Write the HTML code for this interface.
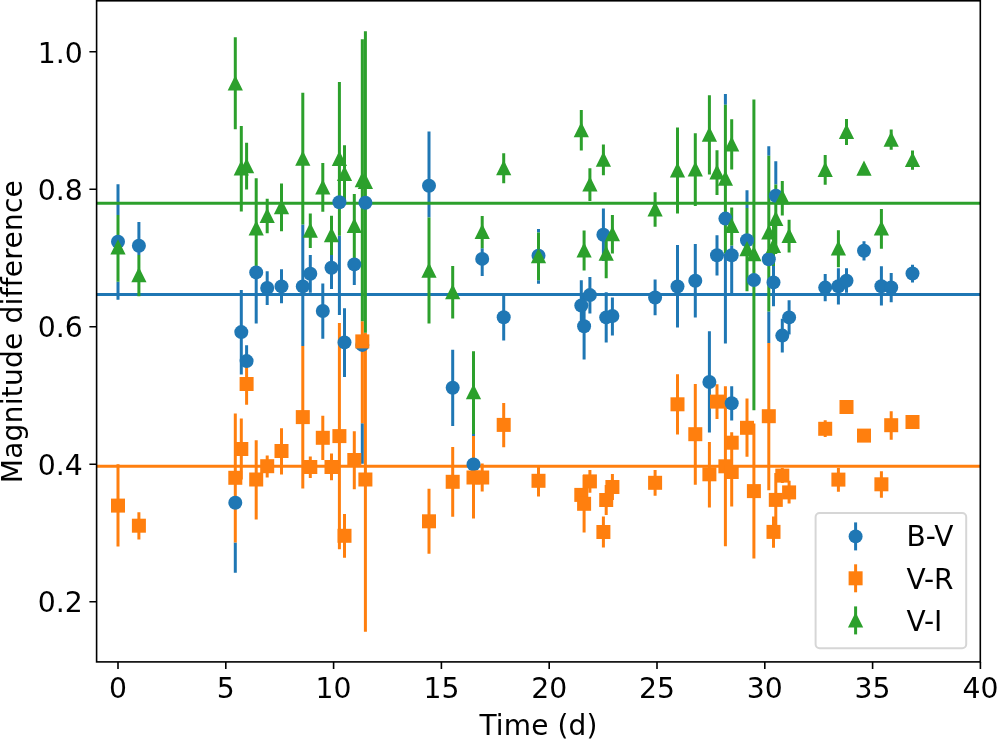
<!DOCTYPE html>
<html><head><meta charset="utf-8"><title>Magnitude difference vs Time</title>
<style>html,body{margin:0;padding:0;background:#fff}svg{display:block}</style></head>
<body>
<svg width="997" height="739" viewBox="0 0 997 739">
<rect width="997" height="739" fill="#fff"/>
<path d="M118.0 184.2V215.1 M118.0 281.7V299.7 M138.9 222.1V255.1 M235.3 542.6V572.8 M241.3 289.9V374.4 M246.6 345.3V363.3 M256.2 279.0V323.6 M267.2 271.2V304.9 M281.5 269.3V303.2 M302.8 224.6V345.9 M310.3 254.9V292.7 M322.8 283.4V338.8 M331.5 255.0V289.0 M339.4 235.7V315.0 M344.5 308.3V376.9 M354.3 258.0V285.0 M362.3 423.3V463.7 M429.0 131.5V217.6 M452.7 349.7V425.9 M473.5 434.0V436.1 M482.2 248.3V276.1 M503.7 294.0V340.5 M538.5 229.0V232.5 M538.5 280.2V283.7 M581.3 280.3V330.7 M584.1 293.1V359.6 M589.9 277.1V313.6 M603.4 208.5V261.1 M606.2 292.3V342.6 M612.4 297.5V335.4 M655.1 279.5V315.3 M677.5 245.1V327.5 M695.3 243.9V317.5 M709.4 331.3V432.6 M717.0 235.2V275.5 M725.4 94.1V104.7 M725.4 253.5V343.5 M731.7 245.4V293.4 M731.7 386.2V420.4 M747.0 190.3V207.9 M768.8 146.3V155.8 M768.8 311.5V343.0 M775.8 161.3V184.6 M773.5 266.0V306.2 M782.3 318.7V352.5 M789.1 300.3V334.6 M825.2 274.0V301.3 M838.4 268.2V304.4 M846.5 268.2V292.8 M864.0 241.3V260.6 M881.4 266.3V305.5 M891.2 272.9V302.3 M912.5 264.8V282.4" stroke="#1f77b4" stroke-width="3.0" fill="none"/>
<path d="M96.6 294.4H980.3" stroke="#1f77b4" stroke-width="3.0" fill="none"/>
<path d="M118.0 464.2V546.6 M138.9 512.3V539.4 M235.3 413.4V542.6 M241.3 418.5V479.5 M246.6 363.3V404.7 M256.2 440.2V519.5 M267.2 455.4V477.5 M281.5 428.2V474.4 M302.8 345.9V488.5 M310.3 456.4V477.9 M322.8 415.8V460.0 M331.5 453.6V480.3 M339.4 323.1V549.2 M344.5 514.0V557.7 M354.3 431.3V489.2 M362.3 321.3V423.3 M365.4 332.8V631.7 M429.0 488.8V553.8 M452.7 447.1V516.8 M473.5 436.1V518.4 M482.2 463.4V491.4 M503.7 403.0V447.2 M538.5 465.2V496.4 M581.3 489.0V501.0 M584.1 475.1V532.5 M589.9 470.0V492.8 M603.4 516.6V547.5 M606.2 485.0V515.0 M612.4 474.1V500.0 M655.1 470.0V495.7 M677.5 374.2V434.6 M695.3 383.9V484.7 M709.4 442.0V507.6 M717.0 384.3V418.9 M725.4 386.2V546.2 M731.7 432.2V453.2 M731.7 437.4V506.6 M747.0 398.4V456.8 M753.9 423.6V558.5 M768.8 343.0V490.3 M773.5 516.5V547.7 M775.8 473.0V527.0 M782.3 468.0V483.0 M789.1 480.7V503.6 M825.2 420.2V437.0 M838.4 468.0V491.7 M846.5 404.0V410.0 M864.0 432.6V438.6 M881.4 471.3V497.8 M891.2 411.3V439.7 M912.5 419.0V425.0" stroke="#ff7f0e" stroke-width="3.0" fill="none"/>
<path d="M96.6 466.2H980.3" stroke="#ff7f0e" stroke-width="3.0" fill="none"/>
<path d="M118.0 215.1V281.7 M138.9 255.1V296.3 M235.3 37.3V129.3 M241.3 126.0V211.4 M246.6 142.8V189.6 M256.2 178.3V279.0 M267.2 198.8V233.3 M281.5 183.4V231.3 M302.8 92.7V224.6 M310.3 213.4V247.9 M322.8 163.0V211.8 M331.5 215.8V255.0 M339.4 82.1V235.7 M344.5 145.3V202.0 M354.3 194.1V258.0 M362.3 39.3V321.3 M365.4 31.2V332.8 M429.0 217.6V323.5 M452.7 266.0V318.4 M473.5 351.2V434.0 M482.2 216.1V248.3 M503.7 153.2V183.2 M538.5 232.5V280.2 M581.3 110.0V150.5 M584.1 230.4V270.6 M589.9 168.2V201.0 M603.4 144.4V175.2 M606.2 229.8V278.2 M612.4 215.1V253.4 M655.1 192.3V226.7 M677.5 127.5V213.5 M695.3 133.3V205.9 M709.4 95.2V174.5 M717.0 150.2V195.0 M725.4 104.7V253.5 M731.7 119.2V169.6 M731.7 207.4V245.4 M747.0 207.9V291.3 M753.9 99.4V410.2 M768.8 155.8V311.5 M775.8 184.6V254.0 M773.5 226.0V266.0 M782.3 181.0V215.6 M789.1 219.8V252.5 M825.2 155.0V184.7 M838.4 230.2V267.2 M846.5 119.0V144.9 M864.0 166.0V171.6 M881.4 208.9V248.7 M891.2 129.4V149.8 M912.5 150.6V169.7" stroke="#2ca02c" stroke-width="3.0" fill="none"/>
<path d="M96.6 203.2H980.3" stroke="#2ca02c" stroke-width="3.0" fill="none"/>
<g fill="#1f77b4"><circle cx="118.0" cy="241.8" r="7"/><circle cx="138.9" cy="245.8" r="7"/><circle cx="235.3" cy="502.7" r="7"/><circle cx="241.3" cy="332.1" r="7"/><circle cx="246.6" cy="361.1" r="7"/><circle cx="256.2" cy="272.4" r="7"/><circle cx="267.2" cy="288.0" r="7"/><circle cx="281.5" cy="286.4" r="7"/><circle cx="302.8" cy="286.4" r="7"/><circle cx="310.3" cy="273.8" r="7"/><circle cx="322.8" cy="311.0" r="7"/><circle cx="331.5" cy="267.7" r="7"/><circle cx="339.4" cy="202.2" r="7"/><circle cx="344.5" cy="342.4" r="7"/><circle cx="354.3" cy="264.4" r="7"/><circle cx="362.3" cy="344.9" r="7"/><circle cx="365.4" cy="202.8" r="7"/><circle cx="429.0" cy="185.7" r="7"/><circle cx="452.7" cy="387.7" r="7"/><circle cx="473.5" cy="464.4" r="7"/><circle cx="482.2" cy="258.9" r="7"/><circle cx="503.7" cy="317.2" r="7"/><circle cx="538.5" cy="255.8" r="7"/><circle cx="581.3" cy="305.5" r="7"/><circle cx="584.1" cy="326.3" r="7"/><circle cx="589.9" cy="295.1" r="7"/><circle cx="603.4" cy="234.8" r="7"/><circle cx="606.2" cy="317.4" r="7"/><circle cx="612.4" cy="316.0" r="7"/><circle cx="655.1" cy="297.5" r="7"/><circle cx="677.5" cy="286.5" r="7"/><circle cx="695.3" cy="280.8" r="7"/><circle cx="709.4" cy="382.0" r="7"/><circle cx="717.0" cy="255.2" r="7"/><circle cx="725.4" cy="218.6" r="7"/><circle cx="731.7" cy="255.3" r="7"/><circle cx="731.7" cy="403.3" r="7"/><circle cx="747.0" cy="240.2" r="7"/><circle cx="753.9" cy="280.1" r="7"/><circle cx="768.8" cy="259.2" r="7"/><circle cx="775.8" cy="195.7" r="7"/><circle cx="773.5" cy="282.4" r="7"/><circle cx="782.3" cy="335.6" r="7"/><circle cx="789.1" cy="317.4" r="7"/><circle cx="825.2" cy="287.6" r="7"/><circle cx="838.4" cy="286.3" r="7"/><circle cx="846.5" cy="280.8" r="7"/><circle cx="864.0" cy="250.8" r="7"/><circle cx="881.4" cy="286.3" r="7"/><circle cx="891.2" cy="287.5" r="7"/><circle cx="912.5" cy="273.5" r="7"/></g>
<g fill="#ff7f0e"><rect x="111.0" y="498.6" width="14" height="14"/><rect x="131.9" y="518.7" width="14" height="14"/><rect x="228.3" y="470.8" width="14" height="14"/><rect x="234.3" y="442.0" width="14" height="14"/><rect x="239.6" y="377.0" width="14" height="14"/><rect x="249.2" y="472.5" width="14" height="14"/><rect x="260.2" y="459.2" width="14" height="14"/><rect x="274.5" y="444.0" width="14" height="14"/><rect x="295.8" y="410.1" width="14" height="14"/><rect x="303.3" y="460.0" width="14" height="14"/><rect x="315.8" y="430.8" width="14" height="14"/><rect x="324.5" y="460.0" width="14" height="14"/><rect x="332.4" y="429.1" width="14" height="14"/><rect x="337.5" y="528.8" width="14" height="14"/><rect x="347.3" y="453.0" width="14" height="14"/><rect x="355.3" y="334.4" width="14" height="14"/><rect x="358.4" y="472.5" width="14" height="14"/><rect x="422.0" y="514.3" width="14" height="14"/><rect x="445.7" y="474.8" width="14" height="14"/><rect x="466.5" y="470.5" width="14" height="14"/><rect x="475.2" y="470.5" width="14" height="14"/><rect x="496.7" y="417.9" width="14" height="14"/><rect x="531.5" y="473.8" width="14" height="14"/><rect x="574.3" y="487.9" width="14" height="14"/><rect x="577.1" y="496.8" width="14" height="14"/><rect x="582.9" y="474.4" width="14" height="14"/><rect x="596.4" y="525.0" width="14" height="14"/><rect x="599.2" y="493.0" width="14" height="14"/><rect x="605.4" y="480.0" width="14" height="14"/><rect x="648.1" y="475.8" width="14" height="14"/><rect x="670.5" y="397.3" width="14" height="14"/><rect x="688.3" y="427.2" width="14" height="14"/><rect x="702.4" y="467.3" width="14" height="14"/><rect x="710.0" y="394.6" width="14" height="14"/><rect x="718.4" y="459.3" width="14" height="14"/><rect x="724.7" y="435.7" width="14" height="14"/><rect x="724.7" y="465.0" width="14" height="14"/><rect x="740.0" y="420.8" width="14" height="14"/><rect x="746.9" y="484.1" width="14" height="14"/><rect x="761.8" y="409.2" width="14" height="14"/><rect x="766.5" y="524.9" width="14" height="14"/><rect x="768.8" y="492.9" width="14" height="14"/><rect x="775.3" y="468.6" width="14" height="14"/><rect x="782.1" y="485.4" width="14" height="14"/><rect x="818.2" y="421.8" width="14" height="14"/><rect x="831.4" y="472.6" width="14" height="14"/><rect x="839.5" y="400.0" width="14" height="14"/><rect x="857.0" y="428.6" width="14" height="14"/><rect x="874.4" y="477.3" width="14" height="14"/><rect x="884.2" y="418.2" width="14" height="14"/><rect x="905.5" y="415.0" width="14" height="14"/></g>
<g fill="#2ca02c" stroke="#2ca02c" stroke-width="2" stroke-linejoin="miter"><path d="M118.0 241.5l-6 12h12z"/><path d="M138.9 269.2l-6 12h12z"/><path d="M235.3 77.4l-6 12h12z"/><path d="M241.3 162.4l-6 12h12z"/><path d="M246.6 160.2l-6 12h12z"/><path d="M256.2 222.6l-6 12h12z"/><path d="M267.2 210.0l-6 12h12z"/><path d="M281.5 201.2l-6 12h12z"/><path d="M302.8 152.8l-6 12h12z"/><path d="M310.3 224.8l-6 12h12z"/><path d="M322.8 181.4l-6 12h12z"/><path d="M331.5 229.2l-6 12h12z"/><path d="M339.4 152.9l-6 12h12z"/><path d="M344.5 168.0l-6 12h12z"/><path d="M354.3 220.0l-6 12h12z"/><path d="M362.3 174.3l-6 12h12z"/><path d="M365.4 176.0l-6 12h12z"/><path d="M429.0 264.7l-6 12h12z"/><path d="M452.7 286.3l-6 12h12z"/><path d="M473.5 386.2l-6 12h12z"/><path d="M482.2 226.0l-6 12h12z"/><path d="M503.7 162.3l-6 12h12z"/><path d="M538.5 250.2l-6 12h12z"/><path d="M581.3 124.2l-6 12h12z"/><path d="M584.1 244.5l-6 12h12z"/><path d="M589.9 178.6l-6 12h12z"/><path d="M603.4 153.8l-6 12h12z"/><path d="M606.2 247.8l-6 12h12z"/><path d="M612.4 228.2l-6 12h12z"/><path d="M655.1 203.5l-6 12h12z"/><path d="M677.5 164.4l-6 12h12z"/><path d="M695.3 163.6l-6 12h12z"/><path d="M709.4 128.8l-6 12h12z"/><path d="M717.0 166.5l-6 12h12z"/><path d="M725.4 172.8l-6 12h12z"/><path d="M731.7 138.4l-6 12h12z"/><path d="M731.7 220.0l-6 12h12z"/><path d="M747.0 243.2l-6 12h12z"/><path d="M753.9 248.2l-6 12h12z"/><path d="M768.8 226.6l-6 12h12z"/><path d="M775.8 213.0l-6 12h12z"/><path d="M773.5 240.0l-6 12h12z"/><path d="M782.3 191.6l-6 12h12z"/><path d="M789.1 230.0l-6 12h12z"/><path d="M825.2 163.9l-6 12h12z"/><path d="M838.4 242.4l-6 12h12z"/><path d="M846.5 126.0l-6 12h12z"/><path d="M864.0 162.8l-6 12h12z"/><path d="M881.4 222.6l-6 12h12z"/><path d="M891.2 133.8l-6 12h12z"/><path d="M912.5 154.1l-6 12h12z"/></g>
<path d="M118.0 661.9v7.2 M225.8 661.9v7.2 M333.6 661.9v7.2 M441.4 661.9v7.2 M549.2 661.9v7.2 M657.0 661.9v7.2 M764.8 661.9v7.2 M872.6 661.9v7.2 M980.4 661.9v7.2 M96.6 51.8h-7.2 M96.6 189.3h-7.2 M96.6 326.8h-7.2 M96.6 464.3h-7.2 M96.6 601.8h-7.2" stroke="#000" stroke-width="1.6" fill="none"/>
<rect x="96.6" y="0.8" width="883.7" height="661.1" fill="none" stroke="#000" stroke-width="1.6"/>
<g font-family="DejaVu Sans, Liberation Sans, sans-serif" font-size="29" fill="#000"><text transform="translate(118.0 698.2) scale(0.975 1)" text-anchor="middle">0</text><text transform="translate(225.8 698.2) scale(0.975 1)" text-anchor="middle">5</text><text transform="translate(333.6 698.2) scale(0.975 1)" text-anchor="middle">10</text><text transform="translate(441.4 698.2) scale(0.975 1)" text-anchor="middle">15</text><text transform="translate(549.2 698.2) scale(0.975 1)" text-anchor="middle">20</text><text transform="translate(657.0 698.2) scale(0.975 1)" text-anchor="middle">25</text><text transform="translate(764.8 698.2) scale(0.975 1)" text-anchor="middle">30</text><text transform="translate(872.6 698.2) scale(0.975 1)" text-anchor="middle">35</text><text transform="translate(980.4 698.2) scale(0.975 1)" text-anchor="middle">40</text><text transform="translate(82.7 63.1) scale(0.977 1)" text-anchor="end">1.0</text><text transform="translate(82.7 199.9) scale(0.977 1)" text-anchor="end">0.8</text><text transform="translate(82.7 337.4) scale(0.977 1)" text-anchor="end">0.6</text><text transform="translate(82.7 474.9) scale(0.977 1)" text-anchor="end">0.4</text><text transform="translate(82.7 612.4) scale(0.977 1)" text-anchor="end">0.2</text></g>
<g font-family="DejaVu Sans, Liberation Sans, sans-serif" font-size="28" fill="#000"><text x="538.5" y="734.6" text-anchor="middle" letter-spacing="0.12">Time (d)</text><text transform="translate(22 331.6) rotate(-90)" text-anchor="middle" letter-spacing="0.25">Magnitude difference</text></g>
<rect x="815.6" y="513" width="150.6" height="135.2" rx="4" ry="4" fill="#fff" fill-opacity="0.8" stroke="#ccc" stroke-opacity="0.8" stroke-width="2"/>
<path d="M855.6 522.4V550.4" stroke="#1f77b4" stroke-width="3"/>
<path d="M855.6 564.3V592.3" stroke="#ff7f0e" stroke-width="3"/>
<path d="M855.6 606.4V634.4" stroke="#2ca02c" stroke-width="3"/>
<circle cx="855.6" cy="536.4" r="7" fill="#1f77b4"/>
<rect x="848.6" y="571.3" width="14" height="14" fill="#ff7f0e"/>
<path d="M855.6 614.4l-6 12h12z" fill="#2ca02c" stroke="#2ca02c" stroke-width="2"/>
<g font-family="DejaVu Sans, Liberation Sans, sans-serif" font-size="28" fill="#000"><text x="906.6" y="546">B-V</text><text x="906.4" y="589">V-R</text><text x="906.4" y="630.6">V-I</text></g>
</svg>
</body></html>
